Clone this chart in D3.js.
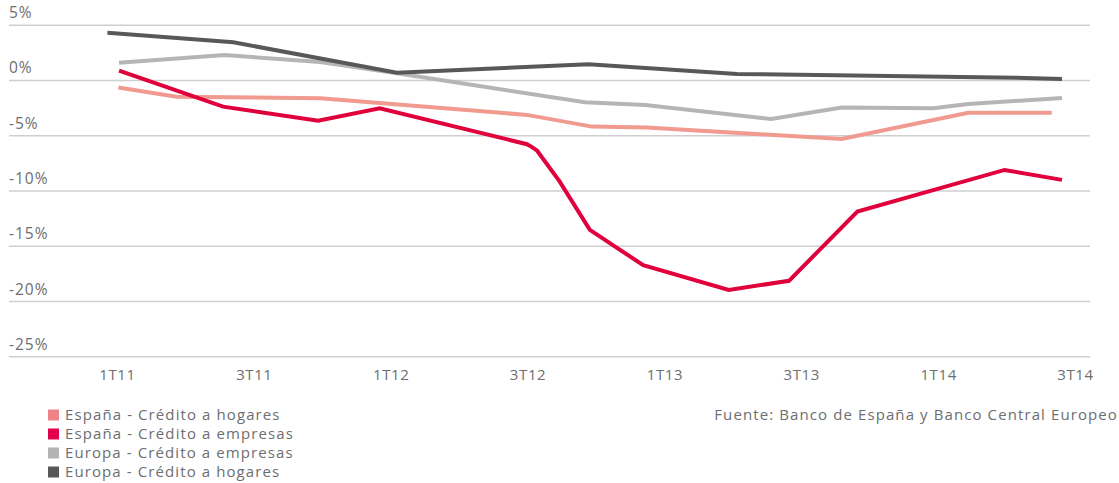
<!DOCTYPE html>
<html lang="es">
<head>
<meta charset="utf-8">
<script src="https://cdn.jsdelivr.net/npm/d3@7"></script>
<style>
  html, body { margin: 0; padding: 0; background: #fff; }
  svg { display: block; }
  text { font-family: "Open Sans", "DejaVu Sans", sans-serif; fill: #6d6e71; }
</style>
</head>
<body>
<svg id="chart" width="1119" height="483"></svg>
<script>
// Quarter index: 0 = 1T11, 1 = 2T11, ... 14 = 3T14 (fractional values sit between quarters)
const xTickValues = [0, 2, 4, 6, 8, 10, 12, 14];
const xTickLabels = ["1T11", "3T11", "1T12", "3T12", "1T13", "3T13", "1T14", "3T14"];
const yTickValues = [5, 0, -5, -10, -15, -20, -25];

// España - Crédito a hogares
const espHogaresT = [0.02, 0.87, 2.97, 5.99, 6.94, 7.74, 10.59, 12.44, 13.66];
const espHogaresV = [-0.69, -1.51, -1.66, -3.16, -4.22, -4.31, -5.33, -2.96, -2.96];

// España - Crédito a empresas
const espEmpresasT = [0.03, 1.55, 2.94, 3.84, 5.99, 6.06, 6.14, 6.47, 6.91, 7.69, 8.94, 9.82, 10.82, 12.97, 13.81];
const espEmpresasV = [0.84, -2.41, -3.68, -2.56, -5.81, -6.05, -6.40, -9.20, -13.56, -16.76, -18.99, -18.17, -11.91, -8.14, -9.04];

// Europa - Crédito a empresas
const eurEmpresasT = [0.03, 1.57, 2.97, 4.09, 6.84, 7.72, 9.56, 10.59, 11.93, 12.44, 13.81];
const eurEmpresasV = [1.56, 2.26, 1.63, 0.60, -2.02, -2.26, -3.53, -2.50, -2.56, -2.17, -1.63];

// Europa - Crédito a hogares
const eurHogaresT = [-0.14, 1.70, 4.09, 6.89, 9.06, 13.14, 13.81];
const eurHogaresV = [4.28, 3.41, 0.66, 1.42, 0.54, 0.21, 0.09];

const seriesNames = [
  "España - Crédito a hogares",
  "España - Crédito a empresas",
  "Europa - Crédito a empresas",
  "Europa - Crédito a hogares"
];
const lineColors = ["#f09a90", "#e0003c", "#b5b5b5", "#58585a"];
const legendColors = ["#ee848a", "#e2004c", "#b3b3b3", "#58585a"];
const source = "Fuente: Banco de España y Banco Central Europeo";

const series = [
  { name: seriesNames[0], t: espHogaresT, v: espHogaresV, color: lineColors[0] },
  { name: seriesNames[1], t: espEmpresasT, v: espEmpresasV, color: lineColors[1] },
  { name: seriesNames[2], t: eurEmpresasT, v: eurEmpresasV, color: lineColors[2] },
  { name: seriesNames[3], t: eurHogaresT, v: eurHogaresV, color: lineColors[3] }
];

const svg = d3.select("#chart");

const x = d3.scaleLinear().domain([0, 14]).range([117, 1075]);
const y = d3.scaleLinear().domain([-25, 5]).range([356.3, 24.7]);

const gridLeft = 9, gridRight = 1090;
const fontFamily = "\"Open Sans\", sans-serif";

// Horizontal gridlines with percentage labels sitting above each line
const yAxis = svg.append("g")
  .attr("transform", `translate(${gridLeft},0)`)
  .call(d3.axisRight(y).tickValues(yTickValues).tickSize(gridRight - gridLeft).tickFormat(d => d + "%"));
yAxis.select(".domain").remove();
yAxis.selectAll(".tick line").attr("stroke", "#cfcfcf").attr("stroke-width", 1.6);
yAxis.selectAll(".tick text")
  .attr("x", 0).attr("dy", "-0.45em")
  .attr("text-anchor", "start")
  .style("font-size", "15.5px")
  .style("font-family", fontFamily)
  .style("letter-spacing", "1px")
  .attr("fill", "#6d6e71");

// Quarter labels
const xAxis = svg.append("g")
  .attr("transform", "translate(0,366)")
  .call(d3.axisBottom(x).tickValues(xTickValues).tickSize(0).tickFormat((d, i) => xTickLabels[i]));
xAxis.select(".domain").remove();
xAxis.selectAll(".tick text")
  .style("font-size", "15px")
  .style("font-family", fontFamily)
  .style("letter-spacing", "0.6px")
  .attr("fill", "#6d6e71");

// Lines
const line = d3.line().x(d => x(d[0])).y(d => y(d[1]));
const drawOrder = [0, 2, 3, 1];
svg.append("g").selectAll("path")
  .data(drawOrder.map(i => series[i]))
  .join("path")
  .attr("d", s => line(d3.zip(s.t, s.v)))
  .attr("fill", "none")
  .attr("stroke", s => s.color)
  .attr("stroke-width", 4)
  .attr("stroke-linejoin", "miter");

// Legend
const legend = svg.append("g").attr("transform", "translate(48,415)");
const rows = legend.selectAll("g").data(seriesNames).join("g")
  .attr("transform", (d, i) => `translate(0,${i * 19})`);
rows.append("rect").attr("x", 0).attr("y", -5.5).attr("width", 11).attr("height", 11)
  .attr("fill", (d, i) => legendColors[i]);
rows.append("text").attr("x", 17).attr("dy", "0.35em")
  .style("font-size", "15px")
  .style("letter-spacing", "1.1px")
  .text(d => d);

// Source note
svg.append("text")
  .attr("x", 1118).attr("y", 415).attr("dy", "0.35em")
  .attr("text-anchor", "end")
  .style("font-size", "15px")
  .style("letter-spacing", "1.1px")
  .text(source);
</script>
</body>
</html>
